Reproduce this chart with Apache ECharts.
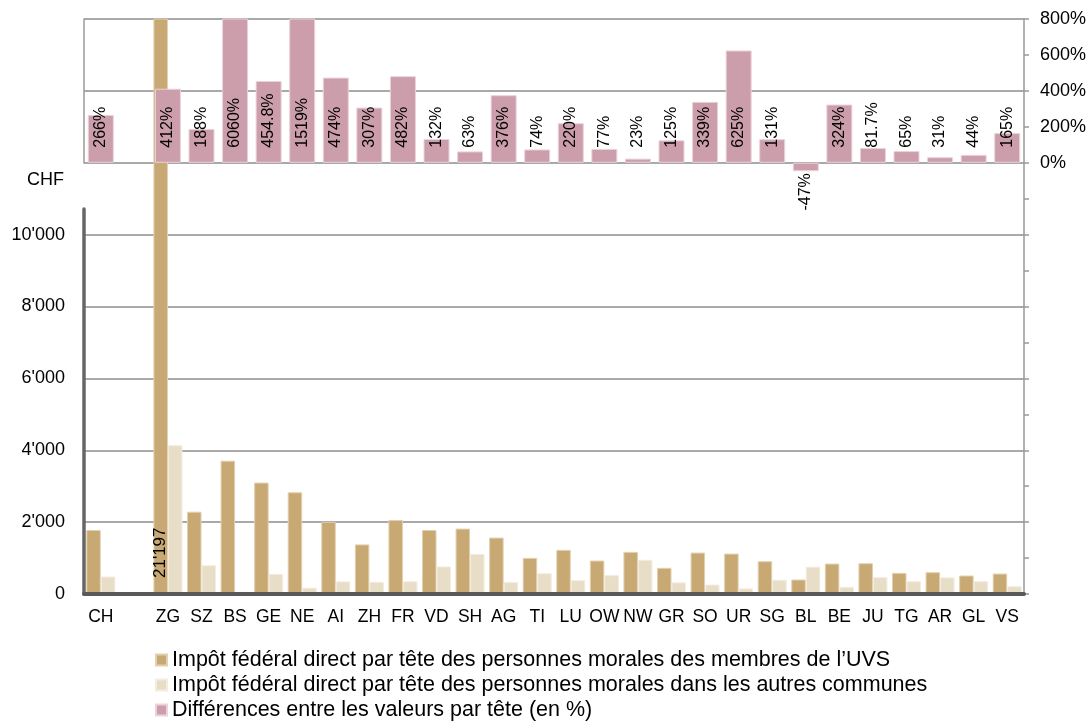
<!DOCTYPE html>
<html>
<head>
<meta charset="utf-8">
<script src="https://cdn.jsdelivr.net/npm/echarts@6/dist/echarts.min.js"></script>
<style>html,body{margin:0;padding:0;background:#fff}#c{width:1090px;height:724px}</style>
</head>
<body>
<div id="c"></div>
<script>
// ---- data ----
const categories = ['CH','','ZG','SZ','BS','GE','NE','AI','ZH','FR','VD','SH','AG','TI','LU','OW','NW','GR','SO','UR','SG','BL','BE','JU','TG','AR','GL','VS'];
const uvsValues   = [1780,'-',21197,2290,3710,3100,2830,2010,1380,2060,1780,1820,1570,1005,1228,931,1172,728,1153,1125,912,403,847,856,589,606,514,569];
const otherValues = [486,'-',4140,800,60,559,175,350,339,354,767,1115,330,578,384,526,953,324,263,155,395,760,200,468,357,463,357,215];
const diffPct     = [266,'-',412,188,6060,454.8,1519,474,307,482,132,63,376,74,220,77,23,125,339,625,131,-47,324,81.7,65,31,44,165];
const seriesNames = [
  'Impôt fédéral direct par tête des personnes morales des membres de l’UVS',
  'Impôt fédéral direct par tête des personnes morales dans les autres communes',
  'Différences entre les valeurs par tête (en %)'
];
const chfAxis = {min: 0, max: 16000, step: 2000, lastLabel: 10000};
const pctAxis = {min: -2400, max: 800, step: 200};
const unitLabel = 'CHF';

// ---- chart ----
const font = '"Liberation Sans", Arial, sans-serif';
const fmtCHF = v => String(Math.round(v)).replace(/\B(?=(\d{3})+(?!\d))/g, "'");
const chart = echarts.init(document.getElementById('c'));
const labelBase = {show: true, position: 'insideBottom', rotate: 90, align: 'left', verticalAlign: 'middle', color: '#000', fontFamily: font};

const option = {
  animation: false,
  textStyle: {fontFamily: font},
  title: {text: unitLabel, left: 22, top: 166, textStyle: {fontSize: 18, fontWeight: 'normal', color: '#000', fontFamily: font}},
  legend: {
    orient: 'vertical', left: 155, top: 649, height: 80, padding: 0,
    itemWidth: 11, itemHeight: 11, itemGap: 3,
    icon: 'rect', selectedMode: false,
    textStyle: {fontSize: 21.5, lineHeight: 21.5, color: '#000', fontFamily: font},
    data: seriesNames
  },
  grid: [
    {left: 84, right: 66, top: 19, bottom: 130, outerBoundsMode: 'none'},
    {left: 84, width: 10, top: 19, height: 144, outerBoundsMode: 'none'},
    {left: 84, width: 10, top: 209, bottom: 130, outerBoundsMode: 'none'}
  ],
  xAxis: [
    {type: 'category', gridIndex: 0, data: categories, z: 5,
     axisLine: {lineStyle: {color: '#595959', width: 4}}, axisTick: {show: false},
     axisLabel: {interval: 0, hideOverlap: false, fontSize: 17.5, color: '#000', margin: 14, fontFamily: font}},
    {type: 'category', gridIndex: 0, data: categories, show: false},
    {type: 'value', gridIndex: 1, show: false},
    {type: 'value', gridIndex: 2, show: false}
  ],
  yAxis: [
    {type: 'value', gridIndex: 0, min: chfAxis.min, max: chfAxis.max, interval: chfAxis.step,
     axisLine: {show: false}, axisTick: {show: false},
     splitLine: {show: true, lineStyle: {color: '#8c8c8c', width: 1.5}},
     axisLabel: {fontSize: 18, color: '#000', margin: 19, fontFamily: font,
                 formatter: v => v <= chfAxis.lastLabel ? fmtCHF(v) : ''}},
    {type: 'value', gridIndex: 0, position: 'right', min: pctAxis.min, max: pctAxis.max, interval: pctAxis.step,
     axisLine: {show: true, onZero: false, lineStyle: {color: '#999', width: 1.5}},
     axisTick: {show: true, length: 5, lineStyle: {color: '#999', width: 1.5}},
     splitLine: {show: false},
     axisLabel: {fontSize: 18, color: '#000', margin: 16, fontFamily: font,
                 formatter: v => v >= 0 ? v + '%' : ''}},
    {type: 'value', gridIndex: 1, axisLine: {show: true, onZero: false, lineStyle: {color: '#9a9a9a', width: 1.5}},
     axisTick: {show: false}, axisLabel: {show: false}, splitLine: {show: false}},
    {type: 'value', gridIndex: 2, axisLine: {show: true, onZero: false, lineStyle: {color: '#666', width: 3.5}},
     axisTick: {show: false}, axisLabel: {show: false}, splitLine: {show: false}}
  ],
  series: [
    {name: seriesNames[0], type: 'bar', xAxisIndex: 0, yAxisIndex: 0, data: uvsValues,
     barWidth: 14.5, barGap: '0%',
     itemStyle: {color: '#C8A873', borderColor: '#E2D1AF', borderWidth: 1},
     label: Object.assign({}, labelBase, {distance: 16, fontSize: 17,
       formatter: p => p.value > chfAxis.max ? fmtCHF(p.value) : ''})},
    {name: seriesNames[1], type: 'bar', xAxisIndex: 0, yAxisIndex: 0, data: otherValues,
     barWidth: 14.5, barGap: '0%',
     itemStyle: {color: '#E8DDC6', borderColor: '#F3ECDF', borderWidth: 1}},
    {name: seriesNames[2], type: 'bar', xAxisIndex: 1, yAxisIndex: 1, z: 3, barWidth: 26,
     data: diffPct.map(v => (typeof v === 'number' && v < 0)
        ? {value: v, label: {position: 'bottom', align: 'right', distance: 2}} : v),
     itemStyle: {color: '#CC9DAA', borderColor: '#EBD3DA', borderWidth: 1},
     label: Object.assign({}, labelBase, {distance: 15, fontSize: 16,
       formatter: p => p.value + '%'})}
  ]
};
chart.setOption(option);
</script>
</body>
</html>
